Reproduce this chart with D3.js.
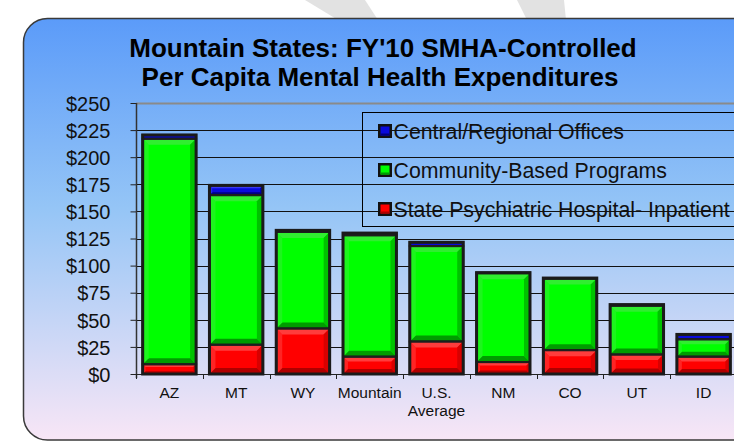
<!DOCTYPE html>
<html>
<head>
<meta charset="utf-8">
<script src="https://d3js.org/d3.v7.min.js"></script>
<style>
  body { margin: 0; background: #fff; }
  svg { display: block; font-family: Arial, "Liberation Sans", sans-serif; }
</style>
</head>
<body>
<svg id="chart" width="734" height="445"></svg>
<script>
// data
const states = ["AZ", "MT", "WY", "Mountain", "U.S. Average", "NM", "CO", "UT", "ID"];
const hospital = [9, 27, 42, 16, 30, 11, 22, 18, 16];
const community = [208, 138, 89, 112, 88, 82, 66, 45, 16];
const central = [3.5, 9, 1.5, 2, 3.5, 0.5, 0.5, 1, 4.5];
const seriesNames = ["Central/Regional Offices", "Community-Based Programs", "State Psychiatric Hospital- Inpatient"];
const yTicks = [0, 25, 50, 75, 100, 125, 150, 175, 200, 225, 250];

const svg = d3.select("#chart");

var defs = svg.append("defs");
var grad = defs.append("linearGradient").attr("id", "bg")
    .attr("x1", 0).attr("y1", 0).attr("x2", 0).attr("y2", 1);
grad.append("stop").attr("offset", "0%").attr("stop-color", "#5b9bf9");
grad.append("stop").attr("offset", "45%").attr("stop-color", "#95c5f6");
grad.append("stop").attr("offset", "100%").attr("stop-color", "#f8e6f6");

// faint gray stripes behind the panel
svg.append("polygon").attr("points", "305,0 365,0 378,20 338,20").attr("fill", "#e2e2e2");
svg.append("polygon").attr("points", "517,0 564,0 566,20 527,20").attr("fill", "#e2e2e2");

// panel
svg.append("rect")
    .attr("x", 23.5).attr("y", 18.5).attr("width", 734).attr("height", 421.5)
    .attr("rx", 24).attr("ry", 24)
    .attr("fill", "url(#bg)").attr("stroke", "#3a3a3a").attr("stroke-width", 1.5);

// title
var title = svg.append("text").attr("text-anchor", "middle")
    .attr("font-weight", "bold").attr("font-size", 26).attr("fill", "#000");
title.append("tspan").attr("x", 383).attr("y", 57).text("Mountain States: FY'10 SMHA-Controlled");
title.append("tspan").attr("x", 380).attr("y", 86).text("Per Capita Mental Health Expenditures");

var margin = {left: 136, top: 103, right: 737, bottom: 374};

var x = d3.scaleBand()
    .domain(states)
    .range([margin.left, margin.right])
    .paddingInner(0.2)
    .paddingOuter(0.1);

var y = d3.scaleLinear()
    .domain([0, 250])
    .range([margin.bottom, margin.top]);

// gridlines
svg.append("g").selectAll("line")
    .data(yTicks.filter(d => d > 0))
    .enter().append("line")
    .attr("x1", margin.left).attr("x2", 734)
    .attr("y1", d => Math.round(y(d)) + 0.5).attr("y2", d => Math.round(y(d)) + 0.5)
    .attr("stroke", d => d == 250 ? "#8a8a8a" : "#111")
    .attr("stroke-width", d => d == 250 ? 2 : 1);

// y axis
var yAxis = svg.append("g")
    .attr("transform", "translate(" + (margin.left + 0.5) + ",0)")
    .call(d3.axisLeft(y).tickValues(yTicks).tickSize(6).tickSizeOuter(0).tickFormat(d => "$" + d));
yAxis.select(".domain").remove();
yAxis.selectAll(".tick line").attr("stroke", "#222");
yAxis.selectAll(".tick text").attr("font-size", 20).attr("fill", "#111")
    .attr("x", -26).attr("dy", "0.36em").attr("font-family", null);
yAxis.append("line").attr("x1", 0).attr("x2", 0)
    .attr("y1", margin.top).attr("y2", margin.bottom + 4).attr("stroke", "#333").attr("stroke-width", 1.5);

// x axis baseline + ticks between categories
var step = x.step();
var xg = svg.append("g");
xg.append("line").attr("x1", margin.left).attr("x2", 734)
    .attr("y1", margin.bottom + 0.5).attr("y2", margin.bottom + 0.5).attr("stroke", "#222");
xg.selectAll(".xt")
    .data(states)
    .enter().append("line")
    .attr("class", "xt")
    .attr("x1", d => Math.round(x(d) - step * 0.1) + 0.5)
    .attr("x2", d => Math.round(x(d) - step * 0.1) + 0.5)
    .attr("y1", margin.bottom).attr("y2", margin.bottom + 5)
    .attr("stroke", "#222");

var labels = xg.selectAll(".xl")
    .data(states)
    .enter().append("text")
    .attr("class", "xl")
    .attr("text-anchor", "middle")
    .attr("font-size", 15.5)
    .attr("fill", "#111");
labels.each(function(d) {
    var t = d3.select(this);
    var cx = x(d) + x.bandwidth() / 2;
    var parts = d == "U.S. Average" ? ["U.S.", "Average"] : [d];
    parts.forEach((p, i) => {
        t.append("tspan").attr("x", cx).attr("y", 398 + i * 18).text(p);
    });
});

// legend (transparent box, gridlines show through)
svg.append("rect")
    .attr("x", 362.5).attr("y", 112.5).attr("width", 400).attr("height", 114)
    .attr("fill", "none").attr("stroke", "#000").attr("stroke-width", 1);

const palette = {
    blue:  {face: "#0a0adc", light: "#3b3bf0", dark: "#000080", side: "#0000b0"},
    green: {face: "#00ff00", light: "#30ee30", dark: "#009c00", side: "#00c200"},
    red:   {face: "#ff0000", light: "#ff3c3c", dark: "#b00000", side: "#d80000"}
};
const seriesColors = ["blue", "green", "red"];

var leg = svg.append("g");
seriesNames.forEach((name, i) => {
    var cy = 131 + i * 39;
    var c = palette[seriesColors[i]];
    leg.append("rect").attr("x", 378).attr("y", cy - 7).attr("width", 14).attr("height", 14)
        .attr("fill", "#111");
    leg.append("rect").attr("x", 380.5).attr("y", cy - 4.5).attr("width", 9).attr("height", 9)
        .attr("fill", c.face);
    leg.append("rect").attr("x", 380.5).attr("y", cy + 2.5).attr("width", 9).attr("height", 2)
        .attr("fill", c.dark);
    leg.append("text").attr("x", 393.5).attr("y", cy + 7.5)
        .attr("font-size", 21.3).attr("fill", "#111").text(name);
});

// stacked bars with bevelled segments
function bevel(g, x0, x1, y0, y1, c) {
    var h = y1 - y0, w = x1 - x0;
    g.append("rect").attr("x", x0).attr("y", y0).attr("width", w).attr("height", h).attr("fill", c.face);
    var b = Math.max(0, Math.min(6, h / 3.5));
    if (b < 1) return;
    var pts = (arr) => arr.map(p => p.join(",")).join(" ");
    g.append("polygon").attr("fill", c.light)
        .attr("points", pts([[x0, y0], [x1, y0], [x1 - b, y0 + b], [x0 + b, y0 + b]]));
    g.append("polygon").attr("fill", c.side)
        .attr("points", pts([[x1, y0], [x1, y1], [x1 - b, y1 - b], [x1 - b, y0 + b]]));
    g.append("polygon").attr("fill", c.dark)
        .attr("points", pts([[x0, y1], [x1, y1], [x1 - b, y1 - b], [x0 + b, y1 - b]]));
    g.append("polygon").attr("fill", c.light).attr("opacity", 0.6)
        .attr("points", pts([[x0, y0], [x0 + b, y0 + b], [x0 + b, y1 - b], [x0, y1]]));
}

var stackData = states.map((s, i) => ({state: s, red: hospital[i], green: community[i], blue: central[i]}));

var bars = svg.append("g").selectAll("g")
    .data(stackData)
    .enter().append("g");

bars.each(function(d) {
    var g = d3.select(this);
    var x0 = x(d.state), x1 = x0 + x.bandwidth();
    var segs = [["red", 0, d.red], ["green", d.red, d.red + d.green], ["blue", d.red + d.green, d.red + d.green + d.blue]];
    segs.forEach(s => {
        bevel(g, x0, x1, y(s[2]), y(s[1]), palette[s[0]]);
    });
    // outlines
    segs.forEach(s => {
        g.append("rect").attr("x", x0).attr("y", y(s[2])).attr("width", x1 - x0)
            .attr("height", Math.max(0, y(s[1]) - y(s[2])))
            .attr("fill", "none").attr("stroke", "#1e1e1e").attr("stroke-width", 2);
    });
    g.append("rect").attr("x", x0).attr("y", y(d.red + d.green + d.blue)).attr("width", x1 - x0)
        .attr("height", y(0) - y(d.red + d.green + d.blue))
        .attr("fill", "none").attr("stroke", "#1a1a1a").attr("stroke-width", 3);
});
</script>
</body>
</html>
